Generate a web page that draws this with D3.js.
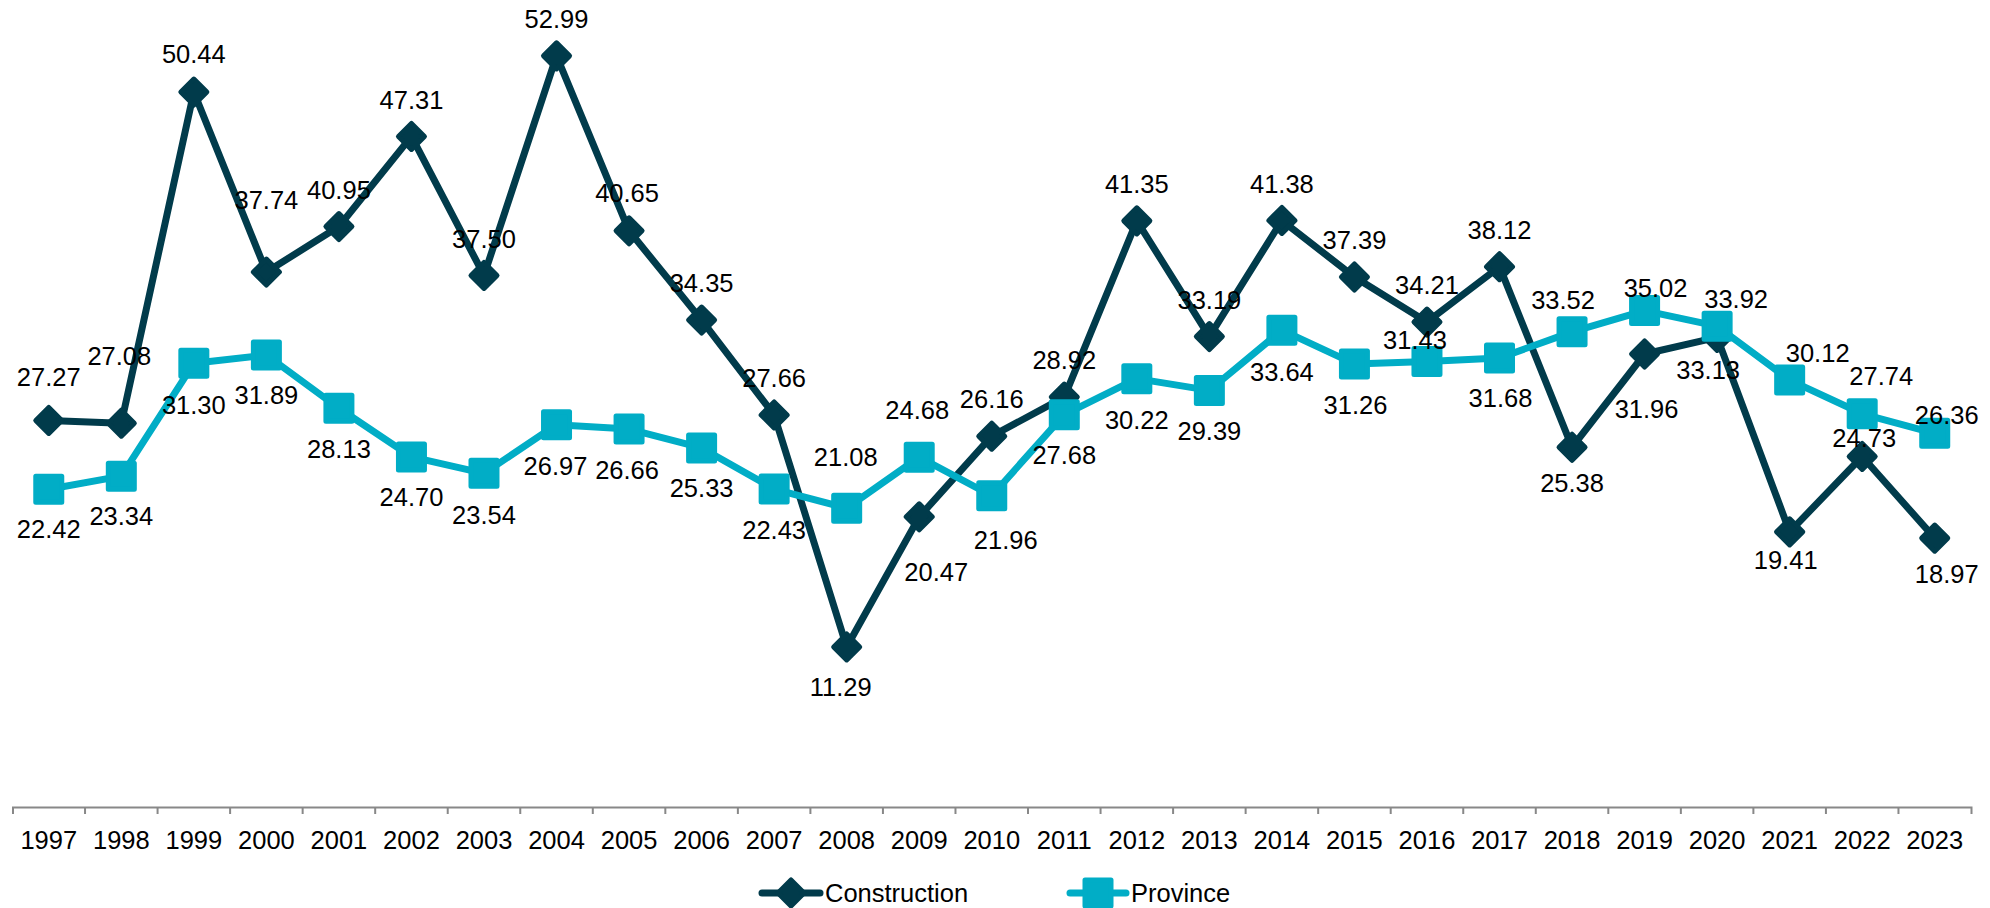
<!DOCTYPE html>
<html>
<head>
<meta charset="utf-8">
<script src="https://cdn.jsdelivr.net/npm/d3@7"></script>
<style>
  html, body { margin: 0; padding: 0; background: #ffffff; }
  svg { display: block; }
  text { font-family: "Liberation Sans", Arial, sans-serif; }
</style>
</head>
<body>
<svg id="chart" width="1990" height="908"></svg>
<script>
// ---- data ----
const years = ["1997","1998","1999","2000","2001","2002","2003","2004","2005","2006","2007","2008","2009",
  "2010","2011","2012","2013","2014","2015","2016","2017","2018","2019","2020","2021","2022","2023"];
const construction = [27.27, 27.08, 50.44, 37.74, 40.95, 47.31, 37.50, 52.99, 40.65, 34.35, 27.66, 11.29, 20.47,
  26.16, 28.92, 41.35, 33.19, 41.38, 37.39, 34.21, 38.12, 25.38, 31.96, 33.13, 19.41, 24.73, 18.97];
const province = [22.42, 23.34, 31.30, 31.89, 28.13, 24.70, 23.54, 26.97, 26.66, 25.33, 22.43, 21.08, 24.68,
  21.96, 27.68, 30.22, 29.39, 33.64, 31.26, 31.43, 31.68, 33.52, 35.02, 33.92, 30.12, 27.74, 26.36];
const seriesNames = ["Construction", "Province"];

// ---- layout (label placement offsets, px) ----
const constructionLabelOffset = [[0,-44],[-2,-67],[0,-38],[0,-72],[0,-37],[0,-37],[0,-37],[0,-37],[-2,-38],[0,-37],
  [0,-37],[-6,40],[17,55],[0,-37],[0,-37],[0,-37],[0,-37],[0,-37],[0,-37],[0,-37],[0,-37],[0,36],[2,55],[-9,32],
  [-4,28],[2,-19],[12,36]];
const provinceLabelOffset = [[0,40],[0,40],[0,41],[0,40],[0,41],[0,40],[0,41],[-1,41],[-2,41],[0,40],[0,41],
  [-1,-51],[-2,-47],[14,44],[0,40],[0,41],[0,40],[0,42],[1,41],[-12,-22],[1,40],[-9,-32],[11,-23],[19,-27],
  [28,-27],[19,-38],[12,-19]];

const colors = ["#013B4B", "#01ADC6"];
const fontSize = 25.5;

const svg = d3.select("#chart");
svg.append("rect").attr("width", 1990).attr("height", 908).attr("fill", "#ffffff");

const axisY = 807;
const x = d3.scaleBand().domain(years).range([12.5, 1971]).paddingInner(0).paddingOuter(0);
const y = d3.scaleLinear().domain([0, 55]).range([axisY, 27.4]);
const cx = d => x(d) + x.bandwidth() / 2;

// ---- x axis ----
const axis = d3.axisBottom(x).tickSizeInner(0).tickSizeOuter(7).tickPadding(24);
const gAxis = svg.append("g").attr("transform", `translate(0,${axisY})`).call(axis);
gAxis.select(".domain").attr("stroke", "#888888").attr("stroke-width", 2);
gAxis.selectAll("text").attr("font-size", fontSize).attr("fill", "#000")
  .attr("font-family", "'Liberation Sans', Arial, sans-serif");
gAxis.selectAll(".boundary").data(years.slice(1)).enter().append("line")
  .attr("class", "boundary")
  .attr("x1", d => x(d)).attr("x2", d => x(d))
  .attr("y1", 0).attr("y2", 7)
  .attr("stroke", "#888888").attr("stroke-width", 2);

// ---- markers ----
const diamondPath = r => `M0,${-r}L${r},0L0,${r}L${-r},0Z`;
const squarePath = h => `M${-h},${-h}L${h},${-h}L${h},${h}L${-h},${h}Z`;
const markerPaths = [diamondPath(13), squarePath(13)];

const allSeries = [construction, province];
const allOffsets = [constructionLabelOffset, provinceLabelOffset];

const line = d3.line().x((d, i) => cx(years[i])).y(d => y(d));

// lines and markers
allSeries.forEach((vals, s) => {
  svg.append("path").datum(vals)
    .attr("d", line)
    .attr("fill", "none")
    .attr("stroke", colors[s])
    .attr("stroke-width", 7)
    .attr("stroke-linejoin", "round")
    .attr("stroke-linecap", "round");
  svg.append("g").selectAll("path").data(vals).enter().append("path")
    .attr("d", markerPaths[s])
    .attr("transform", (d, i) => `translate(${cx(years[i])},${y(d)})`)
    .attr("fill", colors[s])
    .attr("stroke", colors[s])
    .attr("stroke-width", 5)
    .attr("stroke-linejoin", "round");
});

// labels
allSeries.forEach((vals, s) => {
  svg.append("g").selectAll("text").data(vals).enter().append("text")
    .attr("x", (d, i) => cx(years[i]) + allOffsets[s][i][0])
    .attr("y", (d, i) => y(d) + allOffsets[s][i][1])
    .attr("dy", "0.36em")
    .attr("text-anchor", "middle")
    .attr("font-size", fontSize)
    .attr("fill", "#000")
    .text(d => d3.format(".2f")(d));
});

// ---- legend ----
const legendY = 893;
const legendItems = [{x0: 762, x1: 820, tx: 825}, {x0: 1070, x1: 1126, tx: 1131}];
seriesNames.forEach((name, s) => {
  const it = legendItems[s];
  const g = svg.append("g");
  g.append("line").attr("x1", it.x0).attr("x2", it.x1).attr("y1", legendY).attr("y2", legendY)
    .attr("stroke", colors[s]).attr("stroke-width", 7).attr("stroke-linecap", "round");
  g.append("path").attr("d", markerPaths[s])
    .attr("transform", `translate(${(it.x0 + it.x1) / 2},${legendY})`)
    .attr("fill", colors[s]).attr("stroke", colors[s]).attr("stroke-width", 5).attr("stroke-linejoin", "round");
  g.append("text").attr("x", it.tx).attr("y", legendY).attr("dy", "0.36em")
    .attr("font-size", fontSize).attr("fill", "#000").text(name);
});
</script>
</body>
</html>
